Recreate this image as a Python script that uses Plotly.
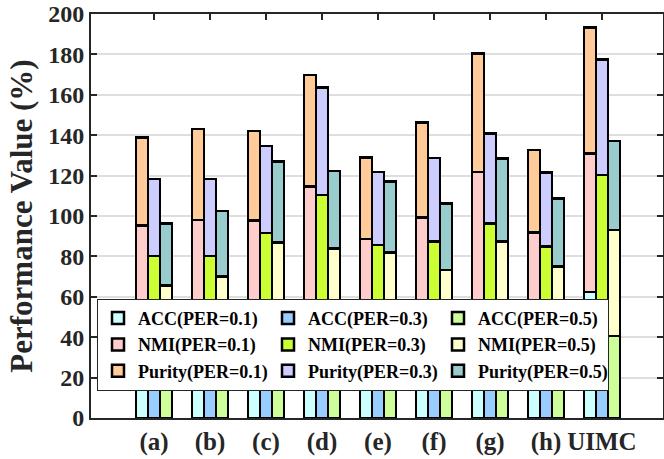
import plotly.graph_objects as go

# Methods compared on the x axis
methods = ["(a)", "(b)", "(c)", "(d)", "(e)", "(f)", "(g)", "(h)", "UIMC"]
per_levels = ["0.1", "0.3", "0.5"]

# ACC (%) for each partial-example ratio
acc_p01 = [42.0, 43.5, 43.0, 53.5, 39.0, 45.5, 56.0, 39.5, 62.5]
acc_p03 = [36.5, 36.8, 41.5, 51.5, 35.0, 40.0, 43.0, 35.5, 55.5]
acc_p05 = [29.5, 31.0, 38.5, 37.0, 33.5, 31.5, 39.5, 32.0, 40.6]

# NMI (%) for each partial-example ratio
nmi_p01 = [53.2, 54.5, 54.7, 61.0, 49.5, 53.8, 65.9, 52.4, 68.5]
nmi_p03 = [43.8, 43.5, 50.2, 58.9, 50.6, 47.3, 53.4, 49.3, 64.8]
nmi_p05 = [36.0, 39.0, 48.5, 47.0, 48.5, 41.8, 47.8, 43.1, 52.4]

# Purity (%) for each partial-example ratio
pur_p01 = [43.6, 45.1, 44.5, 55.3, 40.4, 46.9, 58.6, 40.8, 62.4]
pur_p03 = [38.0, 38.0, 43.0, 53.1, 36.3, 41.4, 44.5, 36.8, 57.3]
pur_p05 = [30.9, 32.5, 39.9, 38.4, 35.0, 33.0, 41.1, 33.5, 44.1]

metrics = {
    "ACC": [acc_p01, acc_p03, acc_p05],
    "NMI": [nmi_p01, nmi_p03, nmi_p05],
    "Purity": [pur_p01, pur_p03, pur_p05],
}
colors = {
    "ACC": ["#ccffff", "#99ccff", "#ccff99"],
    "NMI": ["#ffcccc", "#ccff33", "#ffffcc"],
    "Purity": ["#ffcc99", "#ccccff", "#99cccc"],
}

bar_w = 0.214
offsets = [-bar_w, 0.0, bar_w]
centers = list(range(1, len(methods) + 1))

FONT = "Liberation Serif, Times New Roman, serif"
INK = "#262626"

fig = go.Figure()
# Metric-major trace order: the legend reads row-wise, and each PER column stacks ACC -> NMI -> Purity
for metric, series in metrics.items():
    for k, per in enumerate(per_levels):
        fig.add_trace(go.Bar(
            x=[c + offsets[k] for c in centers],
            y=series[k],
            width=bar_w,
            name=f"{metric}(PER={per})",
            marker=dict(color=colors[metric][k], line=dict(color="black", width=2.5)),
        ))

fig.update_layout(
    barmode="stack",
    width=664, height=459,
    margin=dict(l=91, r=1, t=14, b=41),
    plot_bgcolor="white",
    paper_bgcolor="white",
    font=dict(family=FONT, color=INK, size=24, weight="bold"),
    legend=dict(
        orientation="h",
        x=0.0105, y=0.295, xanchor="left", yanchor="top",
        bgcolor="white", bordercolor=INK, borderwidth=1,
        font=dict(family=FONT, size=18, color="black", weight="bold"),
        entrywidth=125, entrywidthmode="pixels",
        traceorder="normal",
        tracegroupgap=0,
    ),
    showlegend=True,
)

fig.update_xaxes(
    range=[-0.125, 10.09],
    tickmode="array", tickvals=centers, ticktext=methods,
    showgrid=False, zeroline=False, automargin=False,
    showline=True, linecolor=INK, linewidth=2, mirror="ticks",
    ticks="inside", ticklen=6, tickwidth=2, tickcolor=INK,
    layer="below traces",
    ticklabelstandoff=0,
    tickfont=dict(family=FONT, size=25, color=INK, weight="bold"),
)
fig.update_yaxes(
    range=[0, 200], dtick=20,
    showgrid=True, gridcolor="#dedede", gridwidth=2,
    zeroline=False, automargin=False,
    showline=True, linecolor=INK, linewidth=2, mirror="ticks",
    ticks="inside", ticklen=6, tickwidth=2, tickcolor=INK,
    tickfont=dict(family=FONT, size=24, color=INK, weight="bold"),
    title=dict(text="Performance Value (%)", standoff=6,
               font=dict(family=FONT, size=31, color=INK, weight="bold")),
)

fig.write_html("out.html")
